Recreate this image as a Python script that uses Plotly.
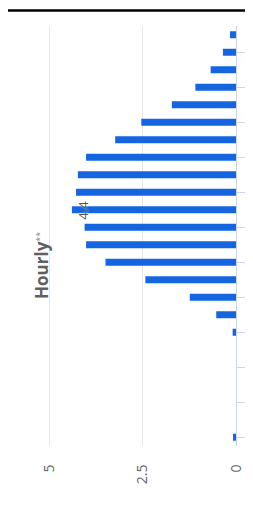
import plotly.graph_objects as go

hours = list(range(24))
values = [0.08, 0, 0, 0, 0, 0, 0.09, 0.53, 1.24, 2.43, 3.50, 4.02,
          4.06, 4.40, 4.29, 4.24, 4.02, 3.24, 2.54, 1.72, 1.09, 0.68, 0.35, 0.16]
value_ticks = [0, 2.5, 5]
value_tick_text = ["0", "2.5", "5"]
title_text = "<b>Hourly</b><span style='font-size:13px;color:#8a8a8a'><sup>**</sup></span>"

W, H = 253, 507
L, R, T, B = 30, 16, 18, 69
pw, ph = W - L - R, H - T - B

fig = go.Figure()
fig.add_trace(go.Bar(
    x=values, y=hours, orientation="h",
    marker=dict(color="#1565e0", line=dict(width=0)),
    hoverinfo="skip",
))

peak = max(values)
peak_hour = hours[values.index(peak)]
fig.add_annotation(
    x=peak, y=peak_hour, text=f"{peak:.1f}", showarrow=False,
    textangle=-90, xshift=11,
    font=dict(family="Open Sans", size=13, color="#555555", shadow="0px 0px 2px white"),
)
fig.add_annotation(
    xref="paper", yref="paper", x=(19 - L) / pw, y=1 - (257 - T) / ph,
    text=title_text, showarrow=False, textangle=-90,
    font=dict(family="Open Sans", size=17, color="#606060"),
)
fig.add_shape(
    type="line", xref="paper", yref="paper",
    x0=-L / pw - 0.05, x1=1 + R / pw + 0.05,
    y0=1 + (T - 2.5) / ph, y1=1 + (T - 2.5) / ph,
    line=dict(color="black", width=2.5),
)

fig.update_layout(
    width=W, height=H,
    margin=dict(l=L, r=R, t=T, b=B, pad=0),
    paper_bgcolor="white", plot_bgcolor="white",
    showlegend=False, bargap=0.6,
    xaxis=dict(
        range=[5.31, 0], tickvals=value_ticks, ticktext=value_tick_text,
        tickangle=-90, showgrid=True, gridcolor="#e6e6e6", gridwidth=1,
        zeroline=False, showline=False,
        ticks="outside", ticklen=12, tickcolor="rgba(0,0,0,0)",
        tickfont=dict(family="Open Sans", size=14, color="#666666"),
        fixedrange=True,
    ),
    yaxis=dict(
        range=[-0.5, 23.5], side="right", tickvals=hours[::2],
        showticklabels=False, showgrid=False, zeroline=False,
        showline=True, linecolor="#ccd6eb", linewidth=1,
        ticks="outside", ticklen=13, tickcolor="#ccd6eb",
        fixedrange=True,
    ),
)

fig.write_html("out.html")
